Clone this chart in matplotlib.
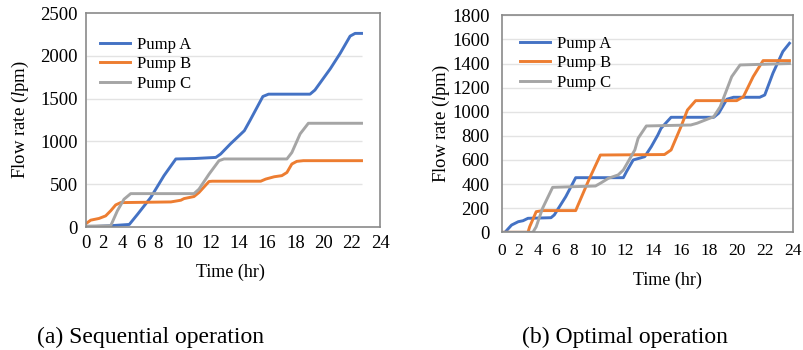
import matplotlib
matplotlib.use('Agg')
import matplotlib.pyplot as plt
import numpy as np

plt.rcParams['font.family'] = ['Liberation Serif', 'DejaVu Serif']
plt.rcParams['mathtext.fontset'] = 'custom'
plt.rcParams['mathtext.rm'] = 'Liberation Serif'
plt.rcParams['mathtext.it'] = 'Liberation Serif:italic'

# tick label hours and where they sit along the axis (fraction of width)
tick_hours = [0, 2, 4, 6, 8, 10, 12, 14, 16, 18, 20, 22, 24]
tick_frac = [0, .057, .122, .185, .246, .331, .425, .519, .616, .712, .807, .903, 1.0]

# (a) sequential operation
a_seq_t = [0, 2.8, 4.8, 5.7, 7.15, 8.45, 9.4, 10.8, 12.35, 12.7, 13.4, 14.4, 14.8,
           15.7, 16.1, 19.05, 19.4, 20.5, 21.2, 21.9, 22.25, 22.7]
a_seq = [0, 15, 30, 150, 345, 600, 795, 800, 813, 853, 970, 1125, 1245,
         1525, 1552, 1552, 1600, 1850, 2030, 2230, 2262, 2262]
b_seq_t = [0, 0.56, 1.55, 2.3, 2.83, 3.35, 3.87, 9.0, 9.8, 10.05, 10.77, 11.13, 11.86,
           12.1, 15.55, 15.9, 16.5, 17.04, 17.4, 17.75, 18.1, 18.57, 22.7]
b_seq = [40, 80, 100, 130, 190, 258, 285, 293, 313, 332, 356, 403, 532,
         535, 535, 560, 587, 600, 637, 736, 767, 775, 775]
c_seq_t = [0, 2.83, 3.52, 4.23, 4.95, 10.77, 11.13, 11.86, 12.58, 12.94, 17.4, 17.75,
           18.34, 18.93, 22.7]
c_seq = [10, 15, 188, 325, 390, 390, 442, 618, 775, 795, 795, 870, 1088, 1212, 1212]

# (b) optimal operation
a_opt_t = [0.36, 1.15, 1.96, 2.47, 2.99, 5.47, 5.83, 7.12, 8.17, 11.83, 12.06, 12.55,
           13.39, 13.87, 14.34, 14.57, 15.28, 18.33, 18.69, 19.28, 19.76, 21.64, 22.0,
           22.58, 23.28, 23.75]
a_opt = [0, 60, 88, 96, 116, 121, 144, 296, 453, 453, 503, 600, 627, 710, 807, 863,
         954, 954, 988, 1104, 1120, 1120, 1139, 1320, 1499, 1568]
b_opt_t = [0, 2.99, 3.17, 3.86, 4.55, 8.17, 8.30, 9.23, 10.15, 14.81, 15.28, 15.98,
           16.44, 17.03, 19.99, 20.47, 21.17, 21.88, 23.75]
b_opt = [0, 0, 46, 171, 180, 180, 212, 434, 641, 645, 683, 876, 1014, 1092, 1092,
         1125, 1291, 1424, 1424]
c_opt_t = [0, 3.51, 3.86, 4.55, 5.65, 9.77, 10.15, 10.74, 11.45, 11.83, 12.67, 12.91,
           13.51, 16.68, 17.14, 18.33, 18.80, 19.63, 20.23, 23.75]
c_opt = [0, 0, 46, 199, 373, 384, 407, 448, 476, 517, 683, 780, 882, 890, 905, 959,
         1042, 1291, 1388, 1400]

labels = ['Pump A', 'Pump B', 'Pump C']
colors = ['#4472C4', '#ED7D31', '#A5A5A5']

scale_pos = np.array(tick_frac) * 24


def fwd(x):
    return np.interp(x, tick_hours, scale_pos)


def inv(x):
    return np.interp(x, scale_pos, tick_hours)


fig = plt.figure(figsize=(8.04, 3.5), dpi=100)
ax1 = fig.add_axes([0.1070, 0.3514, 0.3657, 0.6114])
ax2 = fig.add_axes([0.6244, 0.3363, 0.3619, 0.6200])

panels = [
    (ax1, [(a_seq_t, a_seq), (b_seq_t, b_seq), (c_seq_t, c_seq)], 2500, 500),
    (ax2, [(a_opt_t, a_opt), (b_opt_t, b_opt), (c_opt_t, c_opt)], 1800, 200),
]

for ax, series, ymax, ystep in panels:
    ax.set_xscale('function', functions=(fwd, inv))
    for (t, v), lab, col in zip(series, labels, colors):
        ax.plot(t, v, color=col, lw=2.1, label=lab, solid_joinstyle='round')
    ax.set_xlim(0, 24)
    ax.set_ylim(0, ymax)
    ax.set_xticks(tick_hours)
    ax.set_xticklabels([str(h) for h in tick_hours])
    ax.set_yticks(np.arange(0, ymax + 1, ystep))
    ax.minorticks_off()
    ax.tick_params(length=0, labelsize=13.5)
    for s in ax.spines.values():
        s.set_color('#8a8a8a')
        s.set_linewidth(1.2)
    ax.set_xlabel('Time (hr)', fontsize=13)
    ax.set_ylabel(r'Flow rate ($\mathit{l}$pm)', fontsize=13.5)
    ax.xaxis.label.set_va('center')
    ax.yaxis.label.set_va('center')

# left panel gridlines stop where the data stops
ax1.hlines([500, 1000, 1500, 2000], 0, 22.7, color='#e3e3e3', lw=1.0, zorder=0)
ax2.yaxis.grid(True, color='#e3e3e3', lw=1.0)
ax2.set_axisbelow(True)

ax1.tick_params(axis='y', pad=6)
ax1.tick_params(axis='x', pad=6)
ax2.tick_params(axis='y', pad=9)
ax2.tick_params(axis='x', pad=8, labelsize=12.5)

ax1.xaxis.set_label_coords(0.49, -0.21)
ax1.yaxis.set_label_coords(-0.224, 0.5)
ax2.xaxis.set_label_coords(0.57, -0.22)
ax2.yaxis.set_label_coords(-0.207, 0.5)

ax1.legend(loc='upper left', bbox_to_anchor=(0.048, 0.888), frameon=False, fontsize=12,
           handlelength=1.8, handletextpad=0.42, labelspacing=0.2,
           borderpad=0, borderaxespad=0)
ax2.legend(loc='upper left', bbox_to_anchor=(0.062, 0.905), frameon=False, fontsize=12,
           handlelength=1.8, handletextpad=0.42, labelspacing=0.2,
           borderpad=0, borderaxespad=0)

fig.text(0.0456, 0.02, '(a) Sequential operation', fontsize=17, va='baseline')
fig.text(0.649, 0.02, '(b) Optimal operation', fontsize=17, va='baseline')

fig.savefig('out.png', dpi=100)
